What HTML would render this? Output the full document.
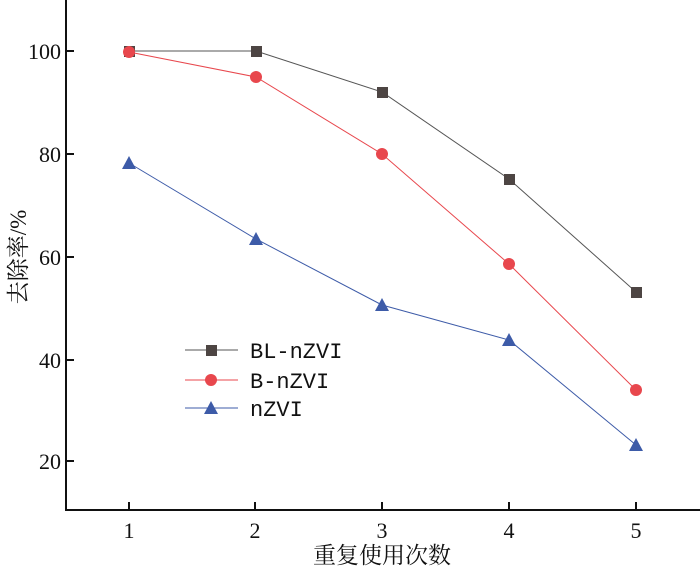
<!DOCTYPE html>
<html><head><meta charset="utf-8"><style>
html,body{margin:0;padding:0;background:#fff;}
svg{display:block;}
text{font-family:"Liberation Serif","Noto Serif CJK SC",serif;fill:#111;}
text.mono{font-family:"Liberation Mono",monospace;}
</style></head><body>
<svg width="700" height="567" viewBox="0 0 700 567">
<g stroke="#111" stroke-width="2" fill="none">
<line x1="66" y1="0" x2="66" y2="511"/>
<line x1="65" y1="510" x2="700" y2="510"/>
<line x1="66" y1="51" x2="74" y2="51"/>
<line x1="66" y1="154" x2="74" y2="154"/>
<line x1="66" y1="257" x2="74" y2="257"/>
<line x1="66" y1="360" x2="74" y2="360"/>
<line x1="66" y1="461" x2="74" y2="461"/>
<line x1="129" y1="510" x2="129" y2="502"/>
<line x1="255" y1="510" x2="255" y2="502"/>
<line x1="382" y1="510" x2="382" y2="502"/>
<line x1="509" y1="510" x2="509" y2="502"/>
<line x1="636" y1="510" x2="636" y2="502"/>
</g>
<g font-size="22" text-anchor="end">
<text x="61" y="59">100</text>
<text x="61" y="162">80</text>
<text x="61" y="265">60</text>
<text x="61" y="368">40</text>
<text x="61" y="469">20</text>
</g>
<g font-size="22" text-anchor="middle">
<text x="129" y="538">1</text>
<text x="255" y="538">2</text>
<text x="382" y="538">3</text>
<text x="509" y="538">4</text>
<text x="636" y="538">5</text>
<text x="382" y="563" font-size="23">重复使用次数</text>
</g>
<text font-size="23" text-anchor="middle" transform="translate(26,257) rotate(-90)">去除率/%</text>
<polyline points="129,51 256,51 382,92 509,179 636,292" fill="none" stroke="#555" stroke-width="1"/>
<g fill="#4d4543">
<rect x="124" y="46" width="11" height="11"/><rect x="251" y="46" width="11" height="11"/>
<rect x="377" y="87" width="11" height="11"/><rect x="504" y="174" width="11" height="11"/>
<rect x="631" y="287" width="11" height="11"/>
</g>
<polyline points="129,52 256,77 382,154 509,264 636,390" fill="none" stroke="#e8474d" stroke-width="1"/>
<g fill="#e8474d">
<circle cx="129" cy="52" r="6"/><circle cx="256" cy="77" r="6"/><circle cx="382" cy="154" r="6"/>
<circle cx="509" cy="264" r="6"/><circle cx="636" cy="390" r="6"/>
</g>
<polyline points="129,163 256,239 382,305 509,340 636,445" fill="none" stroke="#3d5ba8" stroke-width="1"/>
<g fill="#3d5ba8">
<polygon points="129,156 136,169 122,169"/><polygon points="256,232 263,245 249,245"/>
<polygon points="382,298 389,311 375,311"/><polygon points="509,333 516,346 502,346"/>
<polygon points="636,438 643,451 629,451"/>
</g>
<line x1="185" y1="350" x2="238" y2="350" stroke="#555" stroke-width="1"/>
<rect x="206" y="345" width="11" height="11" fill="#4d4543"/>
<line x1="185" y1="380" x2="238" y2="380" stroke="#e8474d" stroke-width="1"/>
<circle cx="211" cy="380" r="6" fill="#e8474d"/>
<line x1="185" y1="408" x2="238" y2="408" stroke="#3d5ba8" stroke-width="1"/>
<polygon points="211,401 218,414 204,414" fill="#3d5ba8"/>
<text class="mono" font-size="22" x="250" y="358">BL-nZVI</text>
<text class="mono" font-size="22" x="250" y="388">B-nZVI</text>
<text class="mono" font-size="22" x="250" y="416">nZVI</text>
</svg>
</body></html>
